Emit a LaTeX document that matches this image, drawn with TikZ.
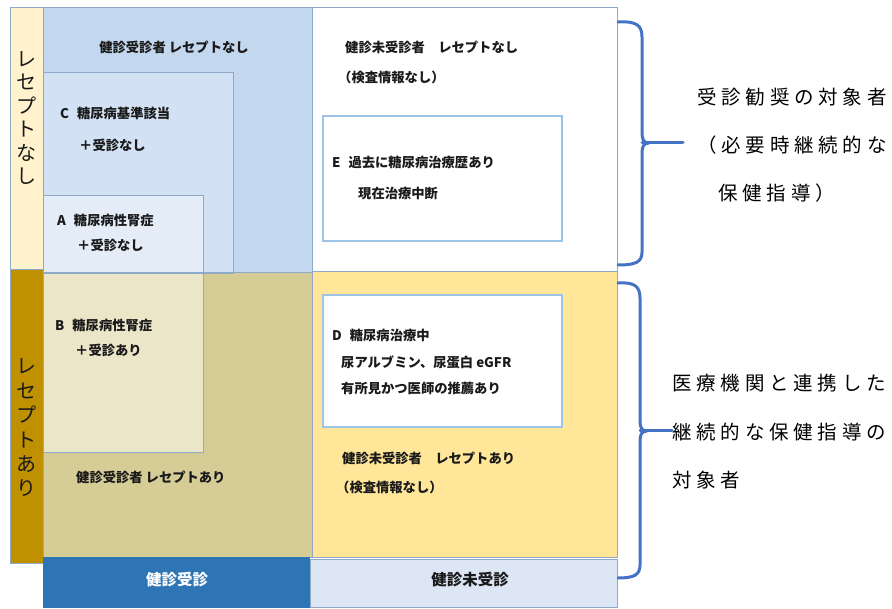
\documentclass[tikz,border=0pt]{standalone}
\usepackage{fontspec}
\newfontfamily\jp{Noto Sans CJK JP}
\newdimen\spreadgap \spreadgap=4.8pt
\makeatletter
\newcommand\spreadtxt[1]{\spread@a#1\@nil}
\def\spread@a#1{\ifx#1\@nil\else#1\kern\spreadgap\expandafter\spread@a\fi}
\makeatother
\definecolor{cream}{HTML}{FFF2CC}
\definecolor{gold}{HTML}{BF9000}
\definecolor{blueR}{HTML}{C3D7EE}
\definecolor{cboxc}{HTML}{D2E1F3}
\definecolor{aboxc}{HTML}{E4ECF7}
\definecolor{olive}{HTML}{D6CC96}
\definecolor{bboxc}{HTML}{ECE6C9}
\definecolor{yell}{HTML}{FFE699}
\definecolor{bardark}{HTML}{2E75B6}
\definecolor{barlight}{HTML}{DCE6F4}
\definecolor{bracec}{HTML}{4472C4}
\definecolor{edgec}{HTML}{8EAAC8}
\definecolor{inedge}{HTML}{9DC3E6}
\definecolor{ink}{HTML}{1A1A1A}
\tikzset{
  region/.style={draw=edgec, line width=0.8pt},
  inbox/.style={draw=inedge, line width=1.1pt},
  txt/.style={inner sep=0pt, anchor=west, text=ink, font=\jp\bfseries\fontsize{13.3}{16}\selectfont},
  ctxt/.style={txt, anchor=center},
  vert/.style={inner sep=0pt, align=center, text=ink},
  bartxt/.style={inner sep=0pt, anchor=center, font=\jp\bfseries\fontsize{15.5}{18}\selectfont},
  rtxt/.style={inner sep=0pt, anchor=west, text=black, font=\jp\fontsize{19.5}{22}\selectfont},
  brace/.style={draw=bracec, line width=3pt, line cap=round, line join=round}
}
\begin{document}
\begin{tikzpicture}[x=1pt,y=-1pt]
\useasboundingbox (0,0) rectangle (892,609);
\fill[white] (0,0) rectangle (892,609);
% regions
\fill[blueR] (43,7) rectangle (312,272);
\fill[white] (312,7) rectangle (617,271);
\fill[olive] (43,272) rectangle (312,557);
\fill[yell] (312,271) rectangle (617,557);
\fill[cboxc] (43,72) rectangle (233,273);
\fill[aboxc] (43,195) rectangle (203,273);
\fill[bboxc] (43,273) rectangle (203,452);
\fill[cream] (10,7) rectangle (43,269);
\fill[gold] (10,269) rectangle (43,563);
\draw[region] (43,7) rectangle (312,272);
\draw[region] (312,7) rectangle (617,271);
\draw[region] (43,272) rectangle (312,557);
\draw[region] (312,271) rectangle (617,557);
\draw[region] (43,72) rectangle (233,273);
\draw[region] (43,195) rectangle (203,273);
\draw[region] (43,273) rectangle (203,452);
\draw[region] (10,7) rectangle (43,269);
\draw[region] (10,269) rectangle (43,563);
% inner white boxes
\draw[inbox, fill=white] (323,116) rectangle (562,241);
\draw[inbox, fill=white] (323,295) rectangle (562,427);
% bottom bars
\fill[bardark] (43,557) rectangle (310,608);
\draw[region, fill=barlight] (310,559) rectangle (617,607);
\node[bartxt, text=white] (bar1) at (177,580) {健診受診};
\node[bartxt, text=ink] (bar2) at (470,580) {健診未受診};
% vertical labels
\node[vert, font=\jp\fontsize{20}{23.4}\selectfont] (vt1) at (26.5,118) {レ\\セ\\プ\\ト\\な\\し};
\node[vert, font=\jp\fontsize{20}{24.4}\selectfont] (vt2) at (26.5,428) {レ\\セ\\プ\\ト\\あ\\り};
% left texts
\node[ctxt] (t1) at (174,47) {健診受診者 レセプトなし};
\node[txt] (c1) at (60,113) {C\hspace{8pt}糖尿病基準該当};
\node[txt] (c2) at (79,145) {＋受診なし};
\node[txt] (a1) at (57,220) {A\hspace{8pt}糖尿病性腎症};
\node[txt] (a2) at (77,245) {＋受診なし};
\node[txt] (b1) at (55,325) {B\hspace{8pt}糖尿病性腎症};
\node[txt] (b2) at (75,350) {＋受診あり};
\node[txt] (t2) at (76,477) {健診受診者 レセプトあり};
% right-of-grid texts
\node[txt] (u1) at (345,47) {健診未受診者　レセプトなし};
\node[txt] (u2) at (338,77) {（検査情報なし）};
\node[txt] (e1) at (332,163) {E\hspace{8pt}過去に糖尿病治療歴あり};
\node[txt] (e2) at (358,193) {現在治療中断};
\node[txt] (d1) at (332,335) {D\hspace{8pt}糖尿病治療中};
\node[txt] (d2) at (341,362) {尿アルブミン、尿蛋白 eGFR};
\node[txt] (d3) at (341,388) {有所見かつ医師の推薦あり};
\node[txt] (y1) at (342,458) {健診未受診者　レセプトあり};
\node[txt] (y2) at (336,487) {（検査情報なし）};
% right annotation texts
\node[rtxt] (r1) at (697,97) {\spreadtxt{受診勧奨の対象者}};
\node[rtxt] (r2) at (697,145) {\spreadtxt{（必要時継続的な}};
\node[rtxt] (r3) at (718,193) {\spreadtxt{保健指導）}};
\node[rtxt] (l1) at (672,383) {\spreadtxt{医療機関と連携した}};
\node[rtxt] (l2) at (672,432) {\spreadtxt{継続的な保健指導の}};
\node[rtxt] (l3) at (672,480) {\spreadtxt{対象者}};
% braces
\coordinate (ubtop) at (618,22);
\coordinate (ubbot) at (618,265);
\coordinate (ubmid) at (642,143);
\coordinate (ubtip) at (683,143);
\draw[brace] (ubtop) .. controls (636,21) and (642,25) .. (642,37) -- (642,133)
  .. controls (642,140) and (644,143) .. (649,143)
  .. controls (644,143) and (642,146) .. (642,153) -- (642,252)
  .. controls (642,262) and (636,265) .. (ubbot);
\draw[brace] (ubmid) -- (ubtip);
\coordinate (lbtop) at (618,283);
\coordinate (lbbot) at (618,578);
\coordinate (lbmid) at (640,431);
\coordinate (lbtip) at (672,431);
\draw[brace] (lbtop) .. controls (634,282) and (640,286) .. (640,298) -- (640,421)
  .. controls (640,428) and (642,431) .. (647,431)
  .. controls (642,431) and (640,434) .. (640,441) -- (640,565)
  .. controls (640,575) and (634,578) .. (lbbot);
\draw[brace] (lbmid) -- (lbtip);
\end{tikzpicture}
\end{document}
